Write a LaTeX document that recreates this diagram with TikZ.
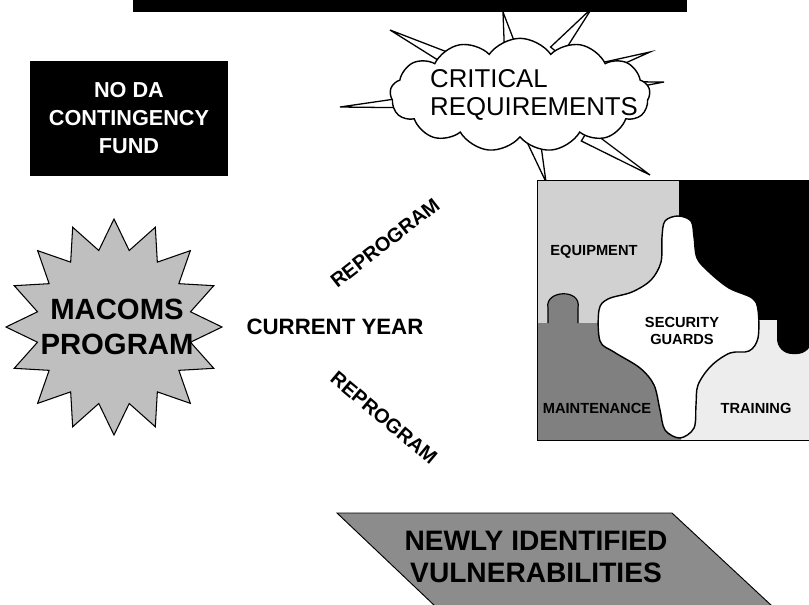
\documentclass[tikz,border=0pt]{standalone}
\usepackage{fontspec}
\setmainfont{Liberation Sans}
\usetikzlibrary{shapes.symbols, shapes.geometric, positioning, calc}

\begin{document}
\begin{tikzpicture}[
  x=0.03cm, y=-0.03cm,
  spike/.style={draw, fill=white, line width=1.1pt, line join=miter},
  bold/.style={font=\bfseries\fontsize{#1}{#1}\selectfont, inner sep=0pt, align=center},
  piece/.style={font=\bfseries\fontsize{12.5}{15}\selectfont, inner sep=0pt, align=center}
]
  \useasboundingbox (0,0) rectangle (809,604);

  % bar along the top edge
  \fill[black] (133,-5) rectangle (687,12);

  % fund box
  \node[fill=black, text=white, minimum width=5.94cm, minimum height=3.45cm,
        font=\bfseries\fontsize{18.5}{24}\selectfont, align=center] (fund) at (129,118)
        {NO DA\\CONTINGENCY\\FUND};

  % cloud with spikes
  \coordinate (cc) at (520,95);
  \foreach \tx/\ty in {390/30, 340/107, 503/12, 592/8, 650/52, 664/82, 650/175, 546/182} {
    \coordinate (tip) at (\tx,\ty);
    \coordinate (base) at ($(cc)!0.5!(tip)$);
    \draw[spike] ($(base)!6pt!90:(tip)$) -- (tip) -- ($(base)!6pt!-90:(tip)$) -- cycle;
  }
  \node[cloud, cloud puffs=13, cloud puff arc=110, draw, fill=white, line width=1.2pt,
        minimum width=7.8cm, minimum height=3.4cm] (cloud) at (cc) {};
  \node[font=\fontsize{22}{24}\selectfont, align=left, inner sep=0pt, anchor=west]
        (crit) at (430,95) {CRITICAL\\REQUIREMENTS};

  % starburst
  \draw[fill=black!25, line width=0.9pt, shift={(114,327)}]
    (90:108) \foreach \i in {1,...,31} { -- ({90+\i*11.25}:{ifthenelse(mod(\i,2)==0,108,78)}) } -- cycle;
  \node[bold=25, font=\bfseries\fontsize{25}{30}\selectfont] (macoms) at (117,327) {MACOMS\\PROGRAM};

  \node[bold=19] (year) at (335,327) {CURRENT YEAR};
  \node[bold=17, rotate=38] (upper) at (385,243) {REPROGRAM};
  \node[bold=17, rotate=-40] (lower) at (384,418) {REPROGRAM};

  % puzzle board
  \fill[black!7] (537,180) rectangle (809,440);
  \fill[black!18] (537,180) rectangle (679,323);
  \fill[black] (679,180) rectangle (809,320);
  \fill[black, rounded corners=13pt] (777,300) -- (777,354) -- (812,354) -- (812,300) -- cycle;
  \fill[black!50] (537,323) -- (548,323) -- (548,308)
    .. controls (544,290) and (582,288) .. (578,308) -- (578,323)
    -- (681,323) -- (681,440) -- (537,440) -- cycle;
  \draw[line width=1pt] (548,323) -- (548,308)
    .. controls (544,290) and (582,288) .. (578,308) -- (578,323);
  \draw[line width=1.2pt, fill=white] plot[smooth cycle, tension=0.55] coordinates {
    (662,237) (665,221) (678,216) (691,221) (694,237) (697,258) (709,272) (729,288)
    (752,298) (758,310) (758,338) (749,351) (730,353) (711,366) (698,385) (696,405)
    (694,428) (680,438) (665,430) (660,410) (654,385) (640,368) (614,352) (600,341)
    (599,310) (608,299) (632,292) (651,280) (661,262)};
  \draw[line width=0.8pt] (537,180) rectangle (809,440);

  \node[piece] (equip) at (594,252) {EQUIPMENT};
  \node[piece] (guards) at (682,331) {SECURITY\\GUARDS};
  \node[piece] (maint) at (597,408) {MAINTENANCE};
  \node[piece] (train) at (756,408) {TRAINING};

  % vulnerabilities banner
  \draw[fill=black!45, line width=0.8pt] (337,513) -- (672,513) -- (772,606) -- (435,606) -- cycle;
  \node[font=\bfseries\fontsize{24}{27}\selectfont, align=center, inner sep=0pt]
        (vuln) at (536,557) {NEWLY IDENTIFIED\\VULNERABILITIES};
\end{tikzpicture}
\end{document}
